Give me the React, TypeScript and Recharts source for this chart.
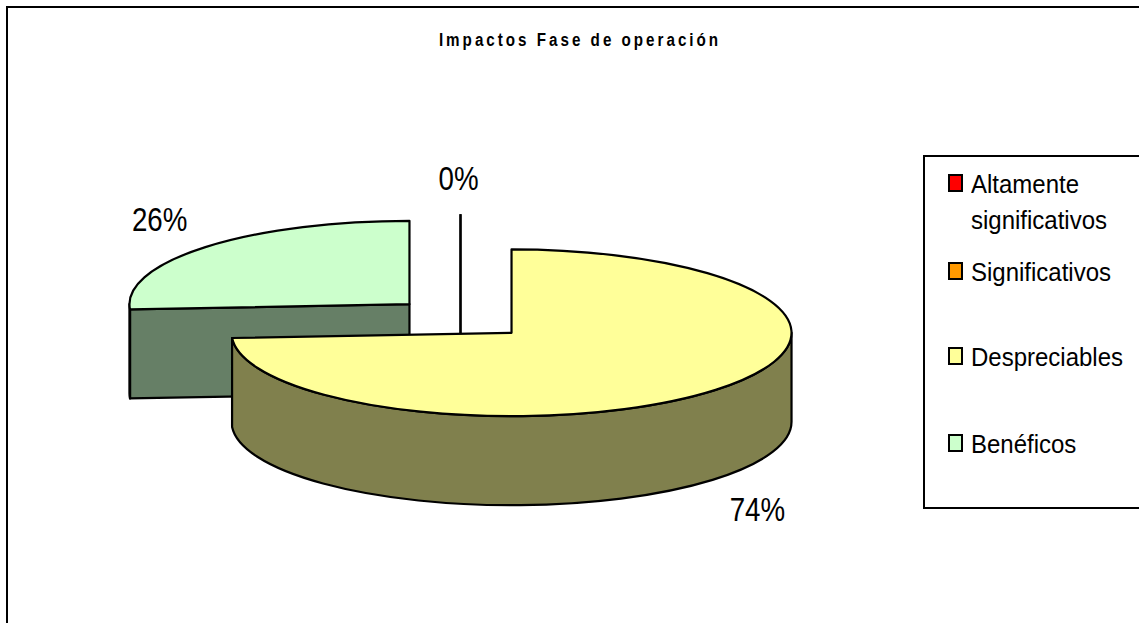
import React from "react";
import { PieChart, Pie, Legend } from "recharts";

const title = "Impactos Fase de operación";
const categories = ["Altamente significativos", "Significativos", "Despreciables", "Benéficos"];
const values = [0, 0, 74, 26];
const topColors = ["#FF0000", "#FF9900", "#FFFF99", "#CCFFCC"];
const wallColors = ["#800000", "#804C00", "#80804D", "#667F66"];
// The 3D pie draws back-to-front: zero slices, then Benéficos, then Despreciables (counter-clockwise from the top).
const drawOrder = [0, 1, 3, 2];
const pieData = drawOrder.map((i) => ({
  name: categories[i],
  value: values[i],
  fill: topColors[i],
  wall: wallColors[i],
}));

const W = 1139;
const H = 623;
const K = 0.298;
const EXPLODE = 70;
const DEPTH = 89;
const FONT = '"Liberation Sans", Arial, sans-serif';
const rad = Math.PI / 180;

function pt(cx: number, cy: number, r: number, deg: number, dy = 0) {
  return [cx + r * Math.cos(deg * rad), cy - K * r * Math.sin(deg * rad) + dy];
}

function arcPath(cx: number, cy: number, r: number, from: number, to: number, dy = 0) {
  const p = pt(cx, cy, r, to, dy);
  const large = Math.abs(to - from) > 180 ? 1 : 0;
  const sweep = to > from ? 0 : 1;
  return `A${r} ${K * r} 0 ${large} ${sweep} ${p[0]} ${p[1]}`;
}

function Slice3D(props: any) {
  const { cx, cy, outerRadius: r, startAngle, endAngle, fill, wall } = props;
  const lo = Math.min(startAngle, endAngle);
  const hi = Math.max(startAngle, endAngle);
  const mid = (lo + hi) / 2;
  const c = pt(cx, cy, EXPLODE, mid);
  const x = c[0];
  const y = c[1];
  const stroke = { stroke: "#000", strokeWidth: 2.2, strokeLinejoin: "round" as const };
  const a = pt(x, y, r, lo);
  const b = pt(x, y, r, hi);
  if (hi - lo < 0.001) {
    return <path d={`M${a[0]} ${a[1]}L${x} ${y}L${x} ${y + DEPTH}`} fill="none" {...stroke} />;
  }
  const parts: React.ReactNode[] = [];
  if (Math.cos(hi * rad) < -1e-6) {
    parts.push(
      <path key="hi" fill={wall} {...stroke} d={`M${x} ${y}L${b[0]} ${b[1]}L${b[0]} ${b[1] + DEPTH}L${x} ${y + DEPTH}Z`} />
    );
  }
  if (Math.cos(lo * rad) > 1e-6) {
    parts.push(
      <path key="lo" fill={wall} {...stroke} d={`M${x} ${y}L${a[0]} ${a[1]}L${a[0]} ${a[1] + DEPTH}L${x} ${y + DEPTH}Z`} />
    );
  }
  const wFrom = Math.max(lo, 180);
  const wTo = Math.min(hi, 360);
  if (wTo > wFrom) {
    const s = pt(x, y, r, wFrom);
    const e = pt(x, y, r, wTo);
    parts.push(
      <path
        key="outer"
        fill={wall}
        {...stroke}
        d={`M${s[0]} ${s[1]}L${s[0]} ${s[1] + DEPTH}${arcPath(x, y, r, wFrom, wTo, DEPTH)}L${e[0]} ${e[1]}${arcPath(x, y, r, wTo, wFrom)}Z`}
      />
    );
  }
  parts.push(
    <path
      key="top"
      fill={fill}
      {...stroke}
      d={`M${x} ${y}L${a[0]} ${a[1]}${arcPath(x, y, r, lo, hi)}Z`}
    />
  );
  return <g>{parts}</g>;
}

function PctLabel(props: any) {
  const { cx, cy, outerRadius: r, midAngle, value, index } = props;
  if (index === 1) return null;
  const c = pt(cx, cy, EXPLODE, midAngle);
  const rim = pt(c[0], c[1], r, midAngle);
  const ca = Math.cos(midAngle * rad);
  const sa = Math.sin(midAngle * rad);
  const below = sa < 0 ? DEPTH + 1.5 : 0;
  const lx = rim[0] + ca * 60 - 2;
  const ly = rim[1] - sa * 36 + ca * 5 + below;
  return (
    <g transform={`translate(${lx} ${ly}) scale(0.84 1)`}>
      <text x={0} y={0} textAnchor="middle" dominantBaseline="central" fontFamily={FONT} fontSize={33} fill="#000">
        {`${value}%`}
      </text>
    </g>
  );
}

const legendRows = [
  { lines: ["Altamente", "significativos"], top: 166 },
  { lines: ["Significativos"], top: 254 },
  { lines: ["Despreciables"], top: 339 },
  { lines: ["Benéficos"], top: 426 },
];

function LegendBox() {
  return (
    <div
      style={{
        position: "absolute",
        left: 0,
        top: 0,
        width: 240,
        height: 354,
        boxSizing: "border-box",
        border: "2px solid #000",
        background: "#fff",
        fontFamily: FONT,
        fontSize: 26.5,
        color: "#000",
      }}
    >
      {categories.map((name, i) => (
        <div key={name} style={{ position: "absolute", left: 0, top: legendRows[i].top - 157, whiteSpace: "nowrap" }}>
          <div
            style={{
              position: "absolute",
              left: 23,
              top: 8,
              width: 15,
              height: 18,
              boxSizing: "border-box",
              border: "2px solid #000",
              background: topColors[i],
            }}
          />
          {legendRows[i].lines.map((l) => (
            <div
              key={l}
              style={{ marginLeft: 46, height: 36, lineHeight: "36px", transform: "scaleX(0.905)", transformOrigin: "left center" }}
            >
              {l}
            </div>
          ))}
        </div>
      ))}
    </div>
  );
}

export default function App() {
  return (
    <div style={{ position: "absolute", left: 0, top: 0, width: W, height: H, overflow: "hidden", background: "#fff" }}>
      <div
        style={{
          position: "absolute",
          left: 6,
          top: 6,
          width: W + 20,
          height: H + 20,
          boxSizing: "border-box",
          border: "2.5px solid #000",
        }}
      />
      <div style={{ position: "absolute", left: 0, top: 0 }}>
        <PieChart width={W} height={H} margin={{ top: 0, right: 0, bottom: 0, left: 0 }}>
          <g transform="translate(580 39) scale(0.8 1)">
            <text x={0} y={0} textAnchor="middle" dominantBaseline="central" fontFamily={FONT} fontWeight="bold" fontSize={19} letterSpacing={3.75} fill="#000">
              {title}
            </text>
          </g>
          <Pie
            data={pieData}
            dataKey="value"
            nameKey="name"
            cx={460.5}
            cy={318.5}
            innerRadius={0}
            outerRadius={280}
            startAngle={90}
            endAngle={450}
            paddingAngle={0}
            stroke="#000"
            isAnimationActive={false}
            shape={Slice3D}
            label={PctLabel}
            labelLine={false}
          />
          <Legend
            content={<LegendBox />}
            layout="vertical"
            align="right"
            verticalAlign="top"
            wrapperStyle={{ position: "absolute", left: 923, top: 155, width: 240, height: 354 }}
          />
        </PieChart>
      </div>
    </div>
  );
}
